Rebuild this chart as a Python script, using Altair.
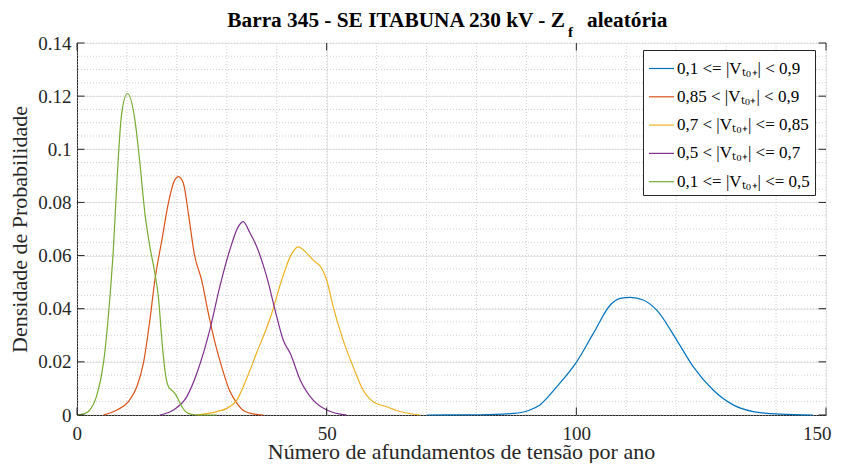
import altair as alt
import pandas as pd

# ---------------- data ----------------
series_labels = [
    "0,1 <= |Vₜ₀₊| < 0,9",
    "0,85 < |Vₜ₀₊| < 0,9",
    "0,7 < |Vₜ₀₊| <= 0,85",
    "0,5 < |Vₜ₀₊| <= 0,7",
    "0,1 <= |Vₜ₀₊| <= 0,5",
]
series_colors = ["#0072BD", "#D95319", "#EDB120", "#7E2F8E", "#77AC30"]

blue_x = [70, 80.7, 87.4, 90.7, 92.7, 96.1, 100.1, 103.4, 106.8, 108.8, 110.8,
          113.4, 116.1, 120.1, 123.4, 127.4, 131.4, 135.4, 140.8, 147.4]
blue_y = [0, 0.0001, 0.0006, 0.0019, 0.0038, 0.0107, 0.0201, 0.0307, 0.0414, 0.0439, 0.0443,
          0.0433, 0.0395, 0.0282, 0.0182, 0.0094, 0.0038, 0.0013, 0.0003, 0]

orange_x = [5.3, 8, 10.3, 12, 13.3, 14.6, 15.6, 17, 18.3, 19.3, 20.3, 21.3, 22.3,
            23.5, 25, 26.3, 27.6, 29, 30.6, 32, 33.5, 35.3, 37.3]
orange_y = [0, 0.0019, 0.005, 0.0107, 0.0195, 0.0358, 0.0508, 0.0659, 0.0797, 0.0872, 0.0897,
            0.0872, 0.0759, 0.0605, 0.0505, 0.0383, 0.0275, 0.018, 0.009, 0.0045, 0.0015, 0.0004, 0]

yellow_x = [24, 28, 30, 32, 34, 36, 38.7, 41, 42.7, 44.3, 45.7, 47.3, 49, 50, 51.3,
            53.3, 55.3, 57.3, 59.3, 62, 64.7, 68.7]
yellow_y = [0, 0.0013, 0.0025, 0.0056, 0.0138, 0.0235, 0.0365, 0.0508, 0.0596, 0.0633, 0.0615,
            0.0583, 0.0552, 0.0508, 0.0408, 0.0282, 0.0182, 0.0094, 0.005, 0.0031, 0.0013, 0]

purple_x = [16.6, 19.3, 22, 24, 26.6, 28.6, 30.6, 32.3, 33.3, 34.5, 36, 38, 40, 41.3,
            42.7, 44.7, 47.3, 50, 54]
purple_y = [0, 0.0019, 0.0069, 0.0157, 0.032, 0.0483, 0.0621, 0.0709, 0.0728, 0.069, 0.0633,
            0.052, 0.037, 0.0282, 0.0232, 0.0132, 0.0056, 0.0019, 0]

green_x = [0, 1.5, 2.6, 3.9, 5.3, 6.6, 7.3, 8.0, 8.95, 10.1, 11.6, 12.6, 13.6, 14.6, 15.6,
           16.3, 17.0, 17.6, 18.3, 19.3, 20.0, 21.0, 22.3, 23.6, 26, 28]
green_y = [0, 0.0005, 0.0019, 0.0069, 0.0195, 0.0445, 0.063, 0.088, 0.1135, 0.121, 0.111,
           0.0947, 0.0759, 0.0633, 0.0533, 0.0445, 0.0282, 0.0169, 0.0107, 0.0088, 0.0069,
           0.0031, 0.0006, 0.0001, 0, 0]

x_ticks = [0, 50, 100, 150]
y_ticks = [0, 0.02, 0.04, 0.06, 0.08, 0.1, 0.12, 0.14]
x_minor = [v for v in range(0, 151, 10)]
y_minor = [round(i * 0.005, 3) for i in range(0, 29)]

title_main = "Barra 345 - SE ITABUNA 230 kV - Z"
title_sub = "f"
title_end = "aleatória"
x_title = "Número de afundamentos de tensão por ano"
y_title = "Densidade de Probabilidade"

# ---------------- build table ----------------
all_x = [blue_x, orange_x, yellow_x, purple_x, green_x]
all_y = [blue_y, orange_y, yellow_y, purple_y, green_y]
rows = []
for i, (lab, xs, ys) in enumerate(zip(series_labels, all_x, all_y)):
    for xv, yv in zip(xs, ys):
        rows.append({"serie": lab, "ordem": i, "x": xv, "y": yv})
df = pd.DataFrame(rows)

W, H = 749, 372
FONT = "Liberation Serif"
AX = "#262626"

xscale = alt.Scale(domain=[0, 150], nice=False, zero=False)
yscale = alt.Scale(domain=[0, 0.14], nice=False)

base_x_axis = alt.Axis(values=x_ticks, grid=True, gridColor="#e8e8e8", ticks=False,
                       labelFontSize=19, labelPadding=9, labelColor=AX, labelFont=FONT,
                       labelFlush=True, labelFlushOffset=5,
                       title=x_title, titleFontSize=22, titleFont=FONT, titleFontWeight="normal",
                       titleColor=AX, titleX=384, titleY=43, titleBaseline="alphabetic",
                       domainColor=AX)
base_y_axis = alt.Axis(values=y_ticks, format=".2~f", grid=True, gridColor="#e8e8e8", ticks=False,
                       labelFontSize=19, labelPadding=6, labelColor=AX, labelFont=FONT,
                       labelFlush=False,
                       title=y_title, titleFontSize=22, titleFont=FONT, titleFontWeight="normal",
                       titleColor=AX, titlePadding=6, domainColor=AX)

minor_x = alt.Chart(pd.DataFrame({"v": x_minor})).mark_rule(
    color="#cfcfcf", strokeDash=[1, 2], strokeWidth=1
).encode(x=alt.X("v:Q", scale=xscale, axis=base_x_axis))

minor_y = alt.Chart(pd.DataFrame({"v": y_minor})).mark_rule(
    color="#cfcfcf", strokeDash=[1, 2], strokeWidth=1
).encode(y=alt.Y("v:Q", scale=yscale, axis=base_y_axis))

lines = alt.Chart(df).mark_line(strokeWidth=1.2, interpolate="monotone").encode(
    x=alt.X("x:Q", scale=xscale, axis=base_x_axis),
    y=alt.Y("y:Q", scale=yscale, axis=base_y_axis),
    color=alt.Color("serie:N", scale=alt.Scale(domain=series_labels, range=series_colors),
                    legend=alt.Legend(title=None, orient="none", legendX=566, legendY=7,
                                      strokeColor=AX, fillColor="white", padding=5,
                                      symbolType="stroke", symbolSize=625, symbolStrokeWidth=1.2,
                                      labelFontSize=17, labelFont=FONT, labelColor="black",
                                      labelOffset=2, rowPadding=6.3, labelLimit=300)),
    detail="serie:N",
)

TL = 7.5
xt = pd.DataFrame({"v": x_ticks})
yt = pd.DataFrame({"v": y_ticks})
ticks_bottom = alt.Chart(xt).mark_rule(color=AX).encode(
    x=alt.X("v:Q", scale=xscale), y=alt.value(H), y2=alt.value(H - TL))
ticks_top = alt.Chart(xt).mark_rule(color=AX).encode(
    x=alt.X("v:Q", scale=xscale), y=alt.value(0), y2=alt.value(TL))
ticks_left = alt.Chart(yt).mark_rule(color=AX).encode(
    y=alt.Y("v:Q", scale=yscale), x=alt.value(0), x2=alt.value(TL))
ticks_right = alt.Chart(yt).mark_rule(color=AX).encode(
    y=alt.Y("v:Q", scale=yscale), x=alt.value(W - TL), x2=alt.value(W))

t1 = alt.Chart(pd.DataFrame({"t": [title_main]})).mark_text(
    align="right", baseline="alphabetic", font=FONT, fontSize=21.3, fontWeight="bold", color="black"
).encode(text="t:N", x=alt.value(488), y=alt.value(-16))
t2 = alt.Chart(pd.DataFrame({"t": [title_sub]})).mark_text(
    align="left", baseline="alphabetic", font=FONT, fontSize=15, fontWeight="bold", color="black"
).encode(text="t:N", x=alt.value(491), y=alt.value(-6))
t3 = alt.Chart(pd.DataFrame({"t": [title_end]})).mark_text(
    align="left", baseline="alphabetic", font=FONT, fontSize=21.3, fontWeight="bold", color="black"
).encode(text="t:N", x=alt.value(510), y=alt.value(-16))

chart = alt.layer(minor_x, minor_y, lines, ticks_bottom, ticks_top, ticks_left, ticks_right,
                  t1, t2, t3).properties(
    width=W, height=H,
    autosize=alt.AutoSizeParams(type="none"),
    padding={"left": 69, "top": 35, "right": 7, "bottom": 48},
).configure_view(stroke=AX, strokeWidth=1).configure(background="white")

chart.save("out.html", embed_options={"renderer": "svg", "actions": False})
